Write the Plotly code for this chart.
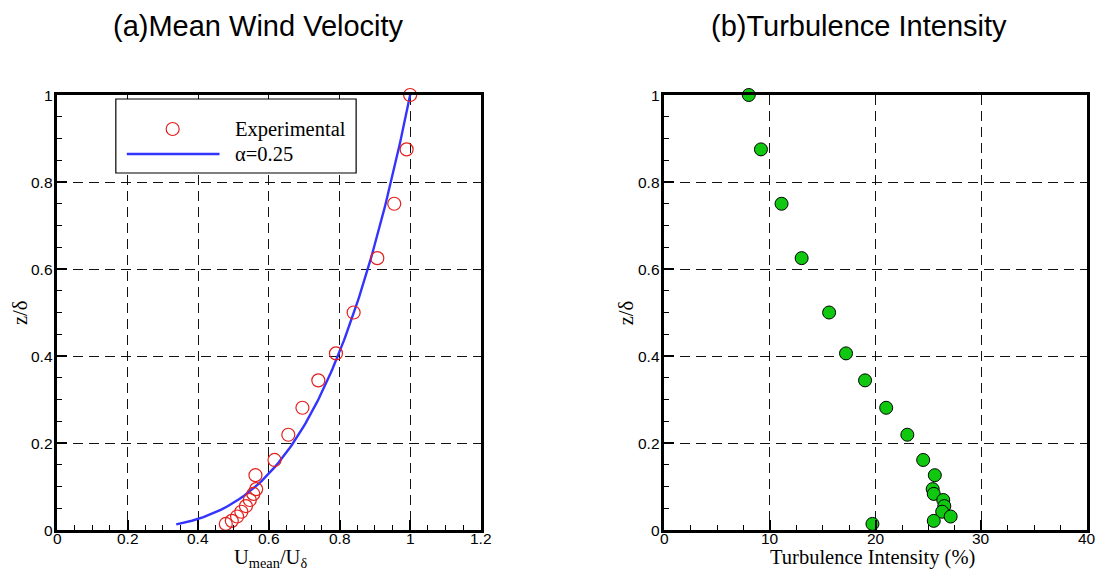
import numpy as np
import plotly.graph_objects as go

# Non-dimensional heights of the measurement points
z_exp = [1.0, 0.875, 0.75, 0.625, 0.5, 0.406, 0.344, 0.281, 0.219, 0.161,
         0.126, 0.094, 0.083, 0.069, 0.055, 0.042, 0.031, 0.021, 0.014]

# Mean wind velocity U_mean / U_delta (experimental)
u_exp = [1.0, 0.99, 0.955, 0.907, 0.84, 0.79, 0.74, 0.695, 0.655, 0.616,
         0.562, 0.564, 0.556, 0.546, 0.535, 0.522, 0.51, 0.495, 0.478]

# Turbulence intensity (%)
ti_exp = [8.0, 9.15, 11.1, 13.0, 15.6, 17.2, 19.0, 21.0, 23.0, 24.5,
          25.6, 25.4, 25.5, 26.4, 26.5, 26.3, 27.1, 25.5, 19.7]

# Tick values / labels
z_ticks = [0, 0.2, 0.4, 0.6, 0.8, 1.0]
z_labels = ["0", "0.2", "0.4", "0.6", "0.8", "1"]
u_ticks = [0, 0.2, 0.4, 0.6, 0.8, 1.0, 1.2]
u_labels = ["0", "0.2", "0.4", "0.6", "0.8", "1", "1.2"]
ti_ticks = [0, 10, 20, 30, 40]
ti_labels = ["0", "10", "20", "30", "40"]

# Power-law profile exponent
ALPHA = 0.25
z_fit = np.linspace(0.013, 1.0, 120)
u_fit = z_fit ** ALPHA

SANS = "Liberation Sans, Arial, sans-serif"
SERIF = "Liberation Serif, Times New Roman, serif"
TICK_SIZE = 15.5
SERIF_SIZE = 20.5

fig = go.Figure()

fig.add_trace(go.Scatter(
    x=u_fit, y=z_fit, mode="lines", xaxis="x", yaxis="y",
    line=dict(color="#3434ff", width=2.4), showlegend=False,
))
fig.add_trace(go.Scatter(
    x=u_exp, y=z_exp, mode="markers", xaxis="x", yaxis="y",
    marker=dict(symbol="circle-open", size=13, color="#e3201c",
                line=dict(width=1.2, color="#e3201c")),
    cliponaxis=False, showlegend=False,
))
fig.add_trace(go.Scatter(
    x=ti_exp, y=z_exp, mode="markers", xaxis="x2", yaxis="y2",
    marker=dict(symbol="circle", size=13, color="#0fc80f",
                line=dict(width=1, color="black")),
    cliponaxis=False, showlegend=False,
))

W, H = 1101, 573
ML, MR, MT, MB = 57, 11, 95, 43
PW = W - ML - MR
PH = H - MT - MB


def px(xp):
    return (xp - ML) / PW


def py(yp):
    return (H - MB - yp) / PH


grid = dict(showgrid=True, gridcolor="#111111", gridwidth=1,
            griddash="10px,6px", zeroline=False)
axis_common = dict(
    showline=True, linecolor="black", linewidth=3, mirror=True,
    ticks="inside", ticklen=10, tickwidth=2, tickcolor="black",
    showticklabels=False,
    **grid,
)


def minor(step):
    return dict(ticks="inside", dtick=step, ticklen=5, tickwidth=1.3,
                tickcolor="black", showgrid=False)


fig.update_layout(
    width=W, height=H,
    margin=dict(l=ML, r=MR, t=MT, b=MB),
    paper_bgcolor="white", plot_bgcolor="white",
    showlegend=False,
    xaxis=dict(domain=[0, 425 / PW], range=[0, 1.2], tickvals=u_ticks,
               minor=minor(0.05), anchor="y", **axis_common),
    yaxis=dict(domain=[0, 1], range=[0, 1], tickvals=z_ticks,
               minor=minor(0.05), anchor="x", **axis_common),
    xaxis2=dict(domain=[(666 - ML) / PW, 1], range=[0, 40], tickvals=ti_ticks,
                minor=minor(2.5), anchor="y2", **axis_common),
    yaxis2=dict(domain=[0, 1], range=[0, 1], tickvals=z_ticks,
                minor=minor(0.05), anchor="x2", **axis_common),
)

tick_font = dict(family=SANS, size=TICK_SIZE, color="black")

# Tick labels placed on the axis scales, close to the frame
for xa, ya, vals, labels in (("x", "y", u_ticks, u_labels),
                             ("x2", "y2", ti_ticks, ti_labels)):
    for v, t in zip(vals, labels):
        fig.add_annotation(xref=xa, yref=f"{ya} domain", x=v, y=0, text=t,
                           showarrow=False, xanchor="center", yanchor="top",
                           yshift=2, font=tick_font)
    for v, t in zip(z_ticks, z_labels):
        fig.add_annotation(xref=f"{xa} domain", yref=ya, x=0, y=v, text=t,
                           showarrow=False, xanchor="right", yanchor="middle",
                           xshift=-2, font=tick_font)

# Panel titles and axis titles
ann = [
    dict(text="(a)Mean Wind Velocity", x=px(259.5), y=py(26),
         font=dict(family=SANS, size=29, color="black")),
    dict(text="(b)Turbulence Intensity", x=px(861), y=py(26),
         font=dict(family=SANS, size=29, color="black")),
    dict(text="U<sub>mean</sub>/U<sub>δ</sub>", x=px(271.5), y=py(558),
         font=dict(family=SERIF, size=SERIF_SIZE, color="black")),
    dict(text="Turbulence Intensity (%)", x=px(874.5), y=py(557),
         font=dict(family=SERIF, size=SERIF_SIZE, color="black")),
    dict(text="z/δ", x=px(20), y=py(313), textangle=-90,
         font=dict(family=SERIF, size=SERIF_SIZE, color="black")),
    dict(text="z/δ", x=px(628), y=py(313), textangle=-90,
         font=dict(family=SERIF, size=SERIF_SIZE, color="black")),
]
for a in ann:
    fig.add_annotation(xref="paper", yref="paper", showarrow=False,
                       xanchor="center", yanchor="middle", **a)

# Legend box for panel (a)
dom_x = lambda xp: (xp - ML) / 425
dom_y = lambda yp: (H - MB - yp) / PH
fig.add_shape(type="rect", xref="x domain", yref="y domain",
              x0=dom_x(116), x1=dom_x(357), y0=dom_y(173), y1=dom_y(99),
              line=dict(color="black", width=1.2), fillcolor="white",
              layer="above")
fig.add_shape(type="circle", xref="x domain", yref="y domain",
              xsizemode="pixel", ysizemode="pixel",
              xanchor=dom_x(173), yanchor=dom_y(129),
              x0=-6.5, x1=6.5, y0=-6.5, y1=6.5,
              line=dict(color="#e3201c", width=1.2), layer="above")
fig.add_shape(type="line", xref="x domain", yref="y domain",
              x0=dom_x(127), x1=dom_x(220), y0=dom_y(154), y1=dom_y(154),
              line=dict(color="#3434ff", width=2.4), layer="above")
fig.add_annotation(xref="x domain", yref="y domain", x=dom_x(234), y=dom_y(129),
                   text="Experimental", showarrow=False, xanchor="left",
                   yanchor="middle",
                   font=dict(family=SERIF, size=SERIF_SIZE, color="black"))
fig.add_annotation(xref="x domain", yref="y domain", x=dom_x(234), y=dom_y(154),
                   text="α=0.25", showarrow=False, xanchor="left",
                   yanchor="middle",
                   font=dict(family=SERIF, size=SERIF_SIZE, color="black"))

fig.write_html("out.html")
